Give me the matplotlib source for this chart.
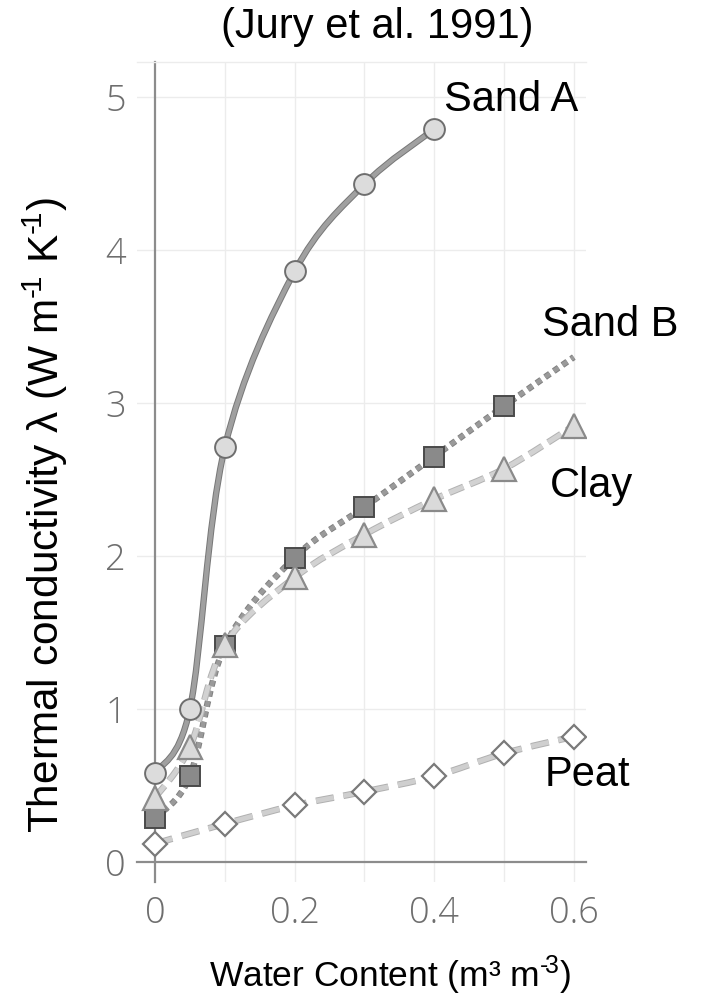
import matplotlib
matplotlib.use("Agg")
import matplotlib.pyplot as plt
import numpy as np
from matplotlib.path import Path
from matplotlib.patches import PathPatch
import matplotlib.patheffects as pe

plt.rcParams['lines.scale_dashes'] = False
plt.rcParams['mathtext.fontset'] = 'custom'
plt.rcParams['mathtext.rm'] = 'Liberation Sans'
plt.rcParams['mathtext.it'] = 'Liberation Sans:italic'

# ---- data ----
sandA_x = [0.0, 0.05, 0.1, 0.2, 0.3, 0.4]
sandA_y = [0.58, 1.00, 2.71, 3.86, 4.43, 4.79]

sandB_x = [0.0, 0.05, 0.1, 0.2, 0.3, 0.4, 0.5, 0.6]
sandB_y = [0.29, 0.56, 1.41, 1.99, 2.32, 2.65, 2.98, 3.30]
sandB_marked = 7  # last value has no marker

clay_x = [0.0, 0.05, 0.1, 0.2, 0.3, 0.4, 0.5, 0.6]
clay_y = [0.42, 0.75, 1.42, 1.86, 2.14, 2.37, 2.57, 2.85]

peat_x = [0.0, 0.1, 0.2, 0.3, 0.4, 0.5, 0.6]
peat_y = [0.12, 0.25, 0.37, 0.46, 0.56, 0.71, 0.82]

x_ticks = [0, 0.2, 0.4, 0.6]
x_ticklabels = ["0", "0.2", "0.4", "0.6"]
y_ticks = [0, 1, 2, 3, 4, 5]
y_ticklabels = ["0", "1", "2", "3", "4", "5"]
x_grid = [0.1, 0.2, 0.3, 0.4, 0.5, 0.6]

series_names = ["Sand A", "Sand B", "Clay", "Peat"]
title_text = "(Jury et al. 1991)"
xlabel_text = "Water Content (m³ m$^{\\mathregular{\u2010}\\!\\mathregular{3}}$)"
ylabel_text = ("Thermal conductivity λ (W m$^{\\mathregular{\u2010}\\!\\mathregular{1}}$ "
               "K$^{\\mathregular{\u2010}\\!\\mathregular{1}}$)")


def smooth_path(xs, ys):
    """Catmull-Rom curve through the points, as cubic Bezier path codes."""
    P = np.column_stack([xs, ys]).astype(float)
    n = len(P)
    verts = [P[0]]
    codes = [Path.MOVETO]
    for i in range(n - 1):
        p0 = P[i - 1] if i > 0 else P[i]
        p1 = P[i]
        p2 = P[i + 1]
        p3 = P[i + 2] if i + 2 < n else P[i + 1]
        c1 = p1 + (p2 - p0) / 6.0
        c2 = p2 - (p3 - p1) / 6.0
        verts += [c1, c2, p2]
        codes += [Path.CURVE4] * 3
    return Path(verts, codes)


W, H = 705, 1002
fig = plt.figure(figsize=(W / 100, H / 100), dpi=100)
ax = fig.add_axes([137 / W, 1 - 882 / H, (586 - 137) / W, (882 - 62) / H])
ax.set_xlim(-0.0258, 0.6175)
ax.set_ylim(-0.1307, 5.229)

# grid
for gx in x_grid:
    ax.axvline(gx, color='#ececec', lw=1.0, zorder=0)
for gy in y_ticks[1:]:
    ax.axhline(gy, color='#ececec', lw=1.0, zorder=0)

# spines
ax.spines['right'].set_visible(False)
ax.spines['top'].set_color('#ececec')
ax.spines['top'].set_linewidth(1.0)
ax.spines['left'].set_position(('data', 0))
ax.spines['bottom'].set_position(('data', 0))
for s in ['left', 'bottom']:
    ax.spines[s].set_color('#8c8c8c')
    ax.spines[s].set_linewidth(1.6)

ax.set_xticks(x_ticks)
ax.set_xticklabels(x_ticklabels)
ax.set_yticks(y_ticks)
ax.set_yticklabels(y_ticklabels)
ax.tick_params(axis='both', length=0, labelsize=26, labelcolor='#6e6e6e')
ax.tick_params(axis='y', pad=21)
ax.tick_params(axis='x', pad=24)
for lab in ax.get_xticklabels() + ax.get_yticklabels():
    lab.set_fontfamily('Open Sans')
    lab.set_fontweight('light')

# lines
def draw_line(xs, ys, inner, outer, lw, ls, z):
    patch = PathPatch(smooth_path(xs, ys), facecolor='none', edgecolor=inner,
                      lw=lw, linestyle=ls, zorder=z, capstyle='butt')
    patch.set_path_effects([pe.Stroke(linewidth=lw + 1.4, foreground=outer), pe.Normal()])
    ax.add_patch(patch)

draw_line(peat_x, peat_y, '#cfcfcf', '#b0b0b0', 3.4, (0, (13, 7)), 2)
draw_line(sandB_x, sandB_y, '#9a9a9a', '#808080', 3.2, (0, (4.2, 3.4)), 2)
draw_line(clay_x, clay_y, '#d2d2d2', '#b2b2b2', 3.4, (0, (11, 5)), 2)
draw_line(sandA_x, sandA_y, '#a0a0a0', '#777777', 3.2, '-', 2)

# markers
ax.plot(peat_x, peat_y, ls='none', marker='D', ms=12, mfc='white', mec='#7a7a7a', mew=1.6, zorder=5)
ax.plot(sandB_x[:sandB_marked], sandB_y[:sandB_marked], ls='none', marker='s', ms=14,
        mfc='#8a8a8a', mec='#4a4a4a', mew=1.4, zorder=5)
ax.plot(clay_x, clay_y, ls='none', marker='^', ms=17, mfc='#dadada', mec='#8a8a8a', mew=1.6, zorder=6)
ax.plot(sandA_x, sandA_y, ls='none', marker='o', ms=15, mfc='#dcdcdc', mec='#6e6e6e', mew=1.4, zorder=7)

# series labels
lab_font = dict(fontsize=30, family='Liberation Sans', color='black', ha='center', va='center')
ax.text(0.51, 4.98, series_names[0], **lab_font, clip_on=False)
ax.text(0.652, 3.51, series_names[1], **lab_font, clip_on=False)
ax.text(0.626, 2.46, series_names[2], **lab_font, clip_on=False)
ax.text(0.62, 0.57, series_names[3], **lab_font, clip_on=False)

fig.text(377 / W, 1 - 27 / H, title_text, fontsize=30, family='Liberation Sans', ha='center', va='center')
fig.text(390 / W, 1 - 975 / H, xlabel_text, fontsize=25.5, family='Liberation Sans', ha='center', va='center')
fig.text(45 / W, 1 - 515 / H, ylabel_text, fontsize=30.5, family='Liberation Sans', ha='center', va='center',
         rotation=90)

fig.savefig('out.png', dpi=100)
